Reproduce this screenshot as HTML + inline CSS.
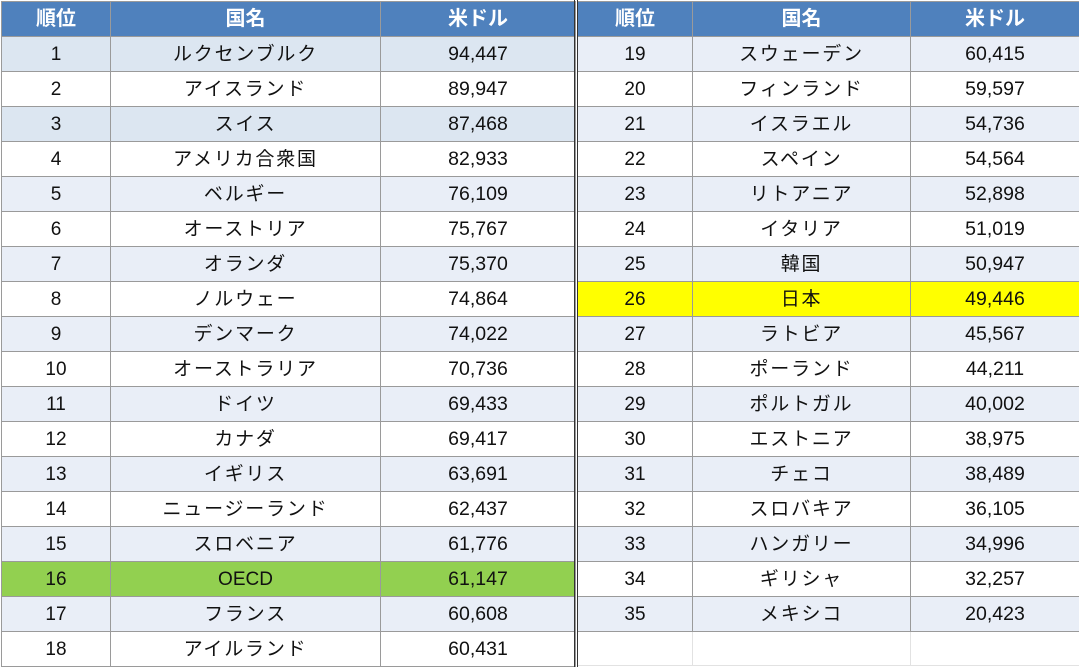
<!DOCTYPE html>
<html><head><meta charset="utf-8"><style>
body{margin:0;width:1079px;height:669px;background:#fff;overflow:hidden;font-family:"Liberation Sans","Noto Sans CJK JP",sans-serif;}
table{position:absolute;top:1px;border-collapse:collapse;table-layout:fixed;}
td,th{height:34px;border:1px solid #9a9a9a;text-align:center;font-size:19px;color:#111;padding:1px 0 0 0;line-height:33px;white-space:nowrap;box-sizing:border-box;}
td:nth-child(2){letter-spacing:1.8px;}
td.n{letter-spacing:0;}
td:nth-child(3){font-size:19.5px;}
th{background:#4f81bd;color:#fff;font-weight:bold;font-size:20px;}
tr.s td{background:#e9eef7;}
tr.d td{background:#dce6f1;}
tr.g td{background:#92d050;}
tr.y td{background:#ffff00;}
tr.e td{border-color:#e2e2e2;border-top-color:#9a9a9a;}
#L{left:1px;width:574px;}
#R{left:577px;width:502px;}
.sep{position:absolute;left:574px;top:0;width:1px;height:667px;background:#333;}
.sep2{position:absolute;left:577px;top:0;width:1px;height:667px;background:#333;}
</style></head><body>
<table id="L"><colgroup><col style="width:109px"><col style="width:270px"><col style="width:195px"></colgroup>
<tr><th>順位</th><th>国名</th><th>米ドル</th></tr>
<tr class="d"><td>1</td><td>ルクセンブルク</td><td>94,447</td></tr>
<tr><td>2</td><td>アイスランド</td><td>89,947</td></tr>
<tr class="d"><td>3</td><td>スイス</td><td>87,468</td></tr>
<tr><td>4</td><td>アメリカ合衆国</td><td>82,933</td></tr>
<tr class="s"><td>5</td><td>ベルギー</td><td>76,109</td></tr>
<tr><td>6</td><td>オーストリア</td><td>75,767</td></tr>
<tr class="s"><td>7</td><td>オランダ</td><td>75,370</td></tr>
<tr><td>8</td><td>ノルウェー</td><td>74,864</td></tr>
<tr class="s"><td>9</td><td>デンマーク</td><td>74,022</td></tr>
<tr><td>10</td><td>オーストラリア</td><td>70,736</td></tr>
<tr class="s"><td>11</td><td>ドイツ</td><td>69,433</td></tr>
<tr><td>12</td><td>カナダ</td><td>69,417</td></tr>
<tr class="s"><td>13</td><td>イギリス</td><td>63,691</td></tr>
<tr><td>14</td><td>ニュージーランド</td><td>62,437</td></tr>
<tr class="s"><td>15</td><td>スロベニア</td><td>61,776</td></tr>
<tr class="g"><td>16</td><td class="n">OECD</td><td>61,147</td></tr>
<tr class="s"><td>17</td><td>フランス</td><td>60,608</td></tr>
<tr><td>18</td><td>アイルランド</td><td>60,431</td></tr>
</table>
<table id="R"><colgroup><col style="width:115px"><col style="width:218px"><col style="width:169px"></colgroup>
<tr><th>順位</th><th>国名</th><th>米ドル</th></tr>
<tr class="s"><td>19</td><td>スウェーデン</td><td>60,415</td></tr>
<tr><td>20</td><td>フィンランド</td><td>59,597</td></tr>
<tr class="s"><td>21</td><td>イスラエル</td><td>54,736</td></tr>
<tr><td>22</td><td>スペイン</td><td>54,564</td></tr>
<tr class="s"><td>23</td><td>リトアニア</td><td>52,898</td></tr>
<tr><td>24</td><td>イタリア</td><td>51,019</td></tr>
<tr class="s"><td>25</td><td>韓国</td><td>50,947</td></tr>
<tr class="y"><td>26</td><td>日本</td><td>49,446</td></tr>
<tr class="s"><td>27</td><td>ラトビア</td><td>45,567</td></tr>
<tr><td>28</td><td>ポーランド</td><td>44,211</td></tr>
<tr class="s"><td>29</td><td>ポルトガル</td><td>40,002</td></tr>
<tr><td>30</td><td>エストニア</td><td>38,975</td></tr>
<tr class="s"><td>31</td><td>チェコ</td><td>38,489</td></tr>
<tr><td>32</td><td>スロバキア</td><td>36,105</td></tr>
<tr class="s"><td>33</td><td>ハンガリー</td><td>34,996</td></tr>
<tr><td>34</td><td>ギリシャ</td><td>32,257</td></tr>
<tr class="s"><td>35</td><td>メキシコ</td><td>20,423</td></tr>
<tr class="e"><td></td><td></td><td></td></tr>
</table>
<div class="sep"></div><div class="sep2"></div>
</body></html>
